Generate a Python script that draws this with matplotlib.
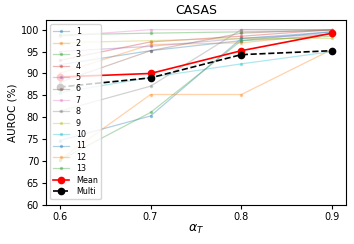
import matplotlib
matplotlib.use("Agg")
import matplotlib.pyplot as plt

alphas = [0.6, 0.7, 0.8, 0.9]

s1 = [92.0, 95.2, 97.5, 99.5]
s2 = [90.0, 96.6, 97.0, 99.0]
s3 = [98.8, 99.2, 99.5, 99.8]
s4 = [93.0, 97.2, 98.5, 100.0]
s5 = [95.0, 96.2, 98.0, 99.0]
s6 = [88.0, 95.2, 99.2, 100.0]
s7 = [98.5, 100.0, 100.0, 100.0]
s8 = [81.4, 87.1, 100.0, 100.0]
s9 = [97.0, 97.5, 98.0, 98.0]
s10 = [85.6, 89.1, 92.2, 95.0]
s11 = [74.7, 80.3, 98.0, 99.5]
s12 = [70.3, 85.2, 85.2, 95.5]
s13 = [70.2, 81.1, 97.5, 98.5]
series = [s1, s2, s3, s4, s5, s6, s7, s8, s9, s10, s11, s12, s13]
labels = [str(i) for i in range(1, 14)]

mean_auroc = [89.2, 90.0, 95.2, 99.2]
multi_auroc = [86.9, 89.0, 94.3, 95.2]

fig, ax = plt.subplots(figsize=(3.54, 2.44), dpi=100)
fig.subplots_adjust(left=0.13, right=0.977, top=0.918, bottom=0.16)

colors = plt.rcParams['axes.prop_cycle'].by_key()['color']
for i, (vals, lab) in enumerate(zip(series, labels)):
    ax.plot(alphas, vals, marker='.', ms=3, lw=0.9, alpha=0.35,
            color=colors[i % 10], label=lab)

ax.plot(alphas, mean_auroc, color='red', marker='o', ms=4.5, lw=1.2, label='Mean')
ax.plot(alphas, multi_auroc, color='black', marker='o', ms=4.5, lw=1.2,
        linestyle='--', label='Multi')

ax.set_ylim(60, 102.2)
ax.set_yticks(range(60, 101, 5))
ax.set_xticks(alphas)
ax.tick_params(labelsize=7, length=3, pad=2)
ax.set_title("CASAS", fontsize=9, pad=4)
ax.set_ylabel("AUROC (%)", fontsize=7.5, labelpad=2)
ax.set_xlabel(r"$\alpha_T$", fontsize=9, labelpad=1)
ax.legend(loc='upper left', fontsize=5.8, handlelength=2.0,
          labelspacing=0.3, borderpad=0.4)

plt.savefig("out.png", dpi=100)
